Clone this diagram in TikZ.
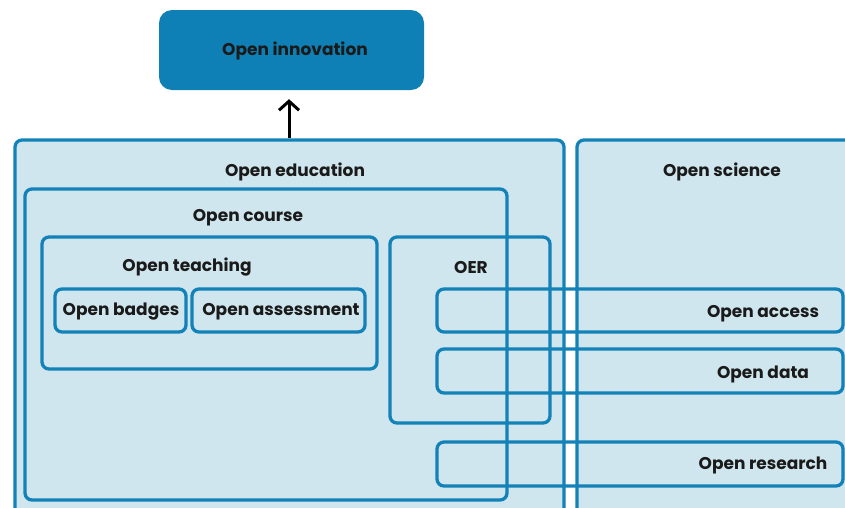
\documentclass[tikz,border=0pt]{standalone}
\usepackage{fontspec}
\setmainfont{Poppins}
\usetikzlibrary{arrows.meta}
\definecolor{boxline}{HTML}{1382B8}
\definecolor{boxfill}{HTML}{CFE6EE}
\definecolor{topfill}{HTML}{0F80B5}
\definecolor{txt}{HTML}{1A1A1A}
\tikzset{
  box/.style={draw=boxline, line width=3.3pt, rounded corners=7pt, rectangle, inner sep=0pt},
  bigbox/.style={box, fill=boxfill},
  lbl/.style={font=\bfseries\fontsize{17}{19}\selectfont, text=txt, inner sep=0pt},
}
\newcommand{\rbox}[6]{% style, name, x1, y1, x2, y2
  \node[#1, minimum width={#5-#3}, minimum height={#6-#4}] (#2) at ({(#3+#5)/2},{(#4+#6)/2}) {};}
\begin{document}
\begin{tikzpicture}[x=1pt, y=-1pt]
\useasboundingbox (0,0) rectangle (845,507);
\clip (0,0) rectangle (845,507);
\rbox{rectangle, rounded corners=13pt, fill=topfill, inner sep=0pt}{innov}{159}{10}{424}{90}
\rbox{bigbox}{edu}{15}{140}{564}{515}
\rbox{bigbox}{sci}{577}{140}{870}{515}
\rbox{box}{course}{25}{189}{507}{500}
\rbox{box}{teach}{42}{237}{377}{369}
\rbox{box}{badges}{55}{289}{186}{332}
\rbox{box}{assess}{192}{289}{365}{332}
\rbox{box}{oer}{390}{237}{550}{423}
\rbox{box}{access}{437}{289}{843}{332}
\rbox{box}{data}{437}{349}{843}{393}
\rbox{box}{research}{437}{442}{843}{486}
\node[lbl] (tinnov) at (295,51) {Open innovation};
\node[lbl] (tedu) at (295,172) {Open education};
\node[lbl] (tsci) at (722,172) {Open science};
\node[lbl] (tcourse) at (248,218) {Open course};
\node[lbl] (tteach) at (187,267) {Open teaching};
\node[lbl] (tbadges) at (121,312) {Open badges};
\node[lbl] (tassess) at (281,312) {Open assessment};
\node[lbl] (toer) at (471,267) {OER};
\node[lbl] (taccess) at (763,314) {Open access};
\node[lbl] (tdata) at (763,374) {Open data};
\node[lbl] (tresearch) at (763,465) {Open research};
\draw[line width=3pt, -{Straight Barb[length=9pt, width=20pt, line width=3pt]}] (edu.north -| 289,0) -- ([yshift=-9pt]innov.south -| 289,0);
\end{tikzpicture}
\end{document}
